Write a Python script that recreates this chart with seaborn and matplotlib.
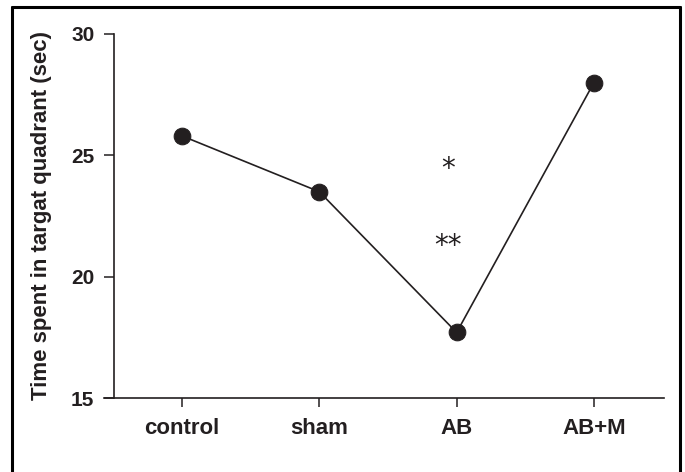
import matplotlib
matplotlib.use("Agg")
import matplotlib.pyplot as plt
from matplotlib.lines import Line2D
import seaborn as sns
import pandas as pd

groups = ["control", "sham", "AB", "AB+M"]
time_sec = [25.8, 23.5, 17.7, 28.0]
y_ticks = [15, 20, 25, 30]
y_label = "Time spent in targat quadrant (sec)"
sig_marks = ["*", "**"]
sig_y = [24.45, 21.25]

sns.set_theme(style="white")
plt.rcParams["font.family"] = ["Liberation Sans", "DejaVu Sans"]

ink = "#231f20"
df = pd.DataFrame({"group": groups, "time": time_sec})

fig = plt.figure(figsize=(6.85, 4.72), dpi=100)
ax = fig.add_axes([104 / 685, 1 - 398 / 472, (664 - 104) / 685, (398 - 34) / 472])

sns.lineplot(data=df, x="group", y="time", ax=ax, color=ink, linewidth=1.2,
             marker="o", markersize=12, markeredgecolor=ink, markerfacecolor=ink)

ax.set_xlim(-0.568, 3.51)
ax.set_ylim(15, 30)
ax.set_yticks(y_ticks)
ax.set_xticks(range(len(groups)))
ax.set_xticklabels(groups)

for s in ["top", "right"]:
    ax.spines[s].set_visible(False)
ax.spines["left"].set_position(("data", -0.495))
for s in ["left", "bottom"]:
    ax.spines[s].set_color(ink)
    ax.spines[s].set_linewidth(1.2)

ax.tick_params(axis="y", direction="out", length=7.2, width=1.1, color=ink,
               labelsize=15, pad=7, left=True)
ax.tick_params(axis="x", direction="out", length=6.5, width=1.1, color=ink,
               labelsize=16, pad=8, bottom=True)
for lab in ax.get_xticklabels() + ax.get_yticklabels():
    lab.set_fontweight("bold")
    lab.set_color(ink)

ax.set_xlabel("")
ax.set_ylabel(y_label, fontsize=16, fontweight="bold", color=ink, va="center")
ax.yaxis.set_label_coords((42 - 104) / 560, 0.5)

for m, yv in zip(sig_marks, sig_y):
    ax.text(1.94, yv, m, ha="center", va="center", fontsize=20, color=ink,
            family=["DejaVu Sans"])

# frame around figure (left, top, right)
lw = 2.2
fig.add_artist(Line2D([12 / 685, 12 / 685], [0, 1 - 7 / 472], transform=fig.transFigure,
                      color="black", linewidth=lw))
fig.add_artist(Line2D([12 / 685, 680 / 685], [1 - 7 / 472, 1 - 7 / 472], transform=fig.transFigure,
                      color="black", linewidth=lw))
fig.add_artist(Line2D([680 / 685, 680 / 685], [0, 1 - 7 / 472], transform=fig.transFigure,
                      color="black", linewidth=lw))

fig.savefig("out.png", dpi=100, facecolor="white")
